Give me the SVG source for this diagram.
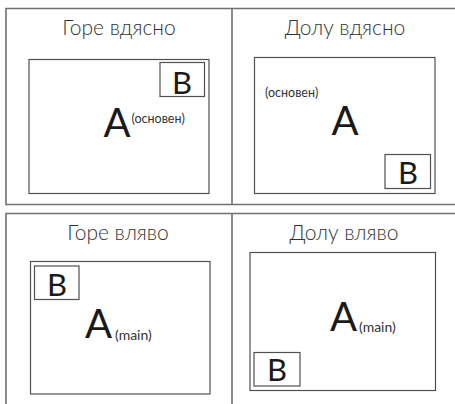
<svg xmlns="http://www.w3.org/2000/svg" width="455" height="404" viewBox="0 0 455 404">
<style>
.frame{fill:none;stroke:#707070;stroke-width:1.6}
.box{fill:none;stroke:#505050;stroke-width:1.2}
.title{font-family:Lato,"Open Sans","Noto Sans",sans-serif;font-weight:300;font-size:21px;fill:#333;text-anchor:middle}
.a{font-family:Lato,"Noto Sans",sans-serif;font-size:40px;fill:#1a1a1a;text-anchor:middle}
.b{font-family:Lato,"Noto Sans",sans-serif;font-size:31px;fill:#1a1a1a;text-anchor:middle}
.sub{font-family:Lato,"Noto Sans",sans-serif;font-size:12.5px;fill:#333}
.m{font-family:Lato,"Noto Sans",sans-serif;font-size:14px;fill:#333}
</style>
<rect width="455" height="404" fill="#fff"/>
<g id="frames">
<path class="frame" d="M456 8.5H6V204.5H456M232 8.5V204.5"/>
<path class="frame" d="M456 213.5H6V405M232 213.5V405"/>
</g>
<g id="top-right">
<text class="title" x="119" y="35">Горе вдясно</text>
<rect class="box" x="29" y="59.5" width="180" height="134"/>
<rect class="box" x="160" y="62.5" width="44.5" height="34"/>
<text class="b" x="182" y="93.5">B</text>
<text class="a" x="117" y="136.5">A</text>
<text class="sub" x="131.5" y="123">(основен)</text>
</g>
<g id="bottom-right">
<text class="title" x="345" y="35">Долу вдясно</text>
<rect class="box" x="254.5" y="57.5" width="180.5" height="136"/>
<text class="sub" x="265" y="97">(основен)</text>
<text class="a" x="345" y="135">A</text>
<rect class="box" x="385" y="154.5" width="45.5" height="34"/>
<text class="b" x="408" y="183.5">B</text>
</g>
<g id="top-left">
<text class="title" x="118" y="240">Горе вляво</text>
<rect class="box" x="30.5" y="261.5" width="179.5" height="132.5"/>
<rect class="box" x="34.5" y="266" width="44.5" height="33.5"/>
<text class="b" x="57" y="295.5">B</text>
<text class="a" x="98.5" y="338">A</text>
<text class="m" x="115" y="340">(main)</text>
</g>
<g id="bottom-left">
<text class="title" x="344" y="239.5">Долу вляво</text>
<rect class="box" x="250" y="252.5" width="185.5" height="138"/>
<text class="a" x="343.5" y="331">A</text>
<text class="m" x="359" y="332">(main)</text>
<rect class="box" x="254" y="352.5" width="46" height="33.5"/>
<text class="b" x="277" y="380.5">B</text>
</g>
</svg>
